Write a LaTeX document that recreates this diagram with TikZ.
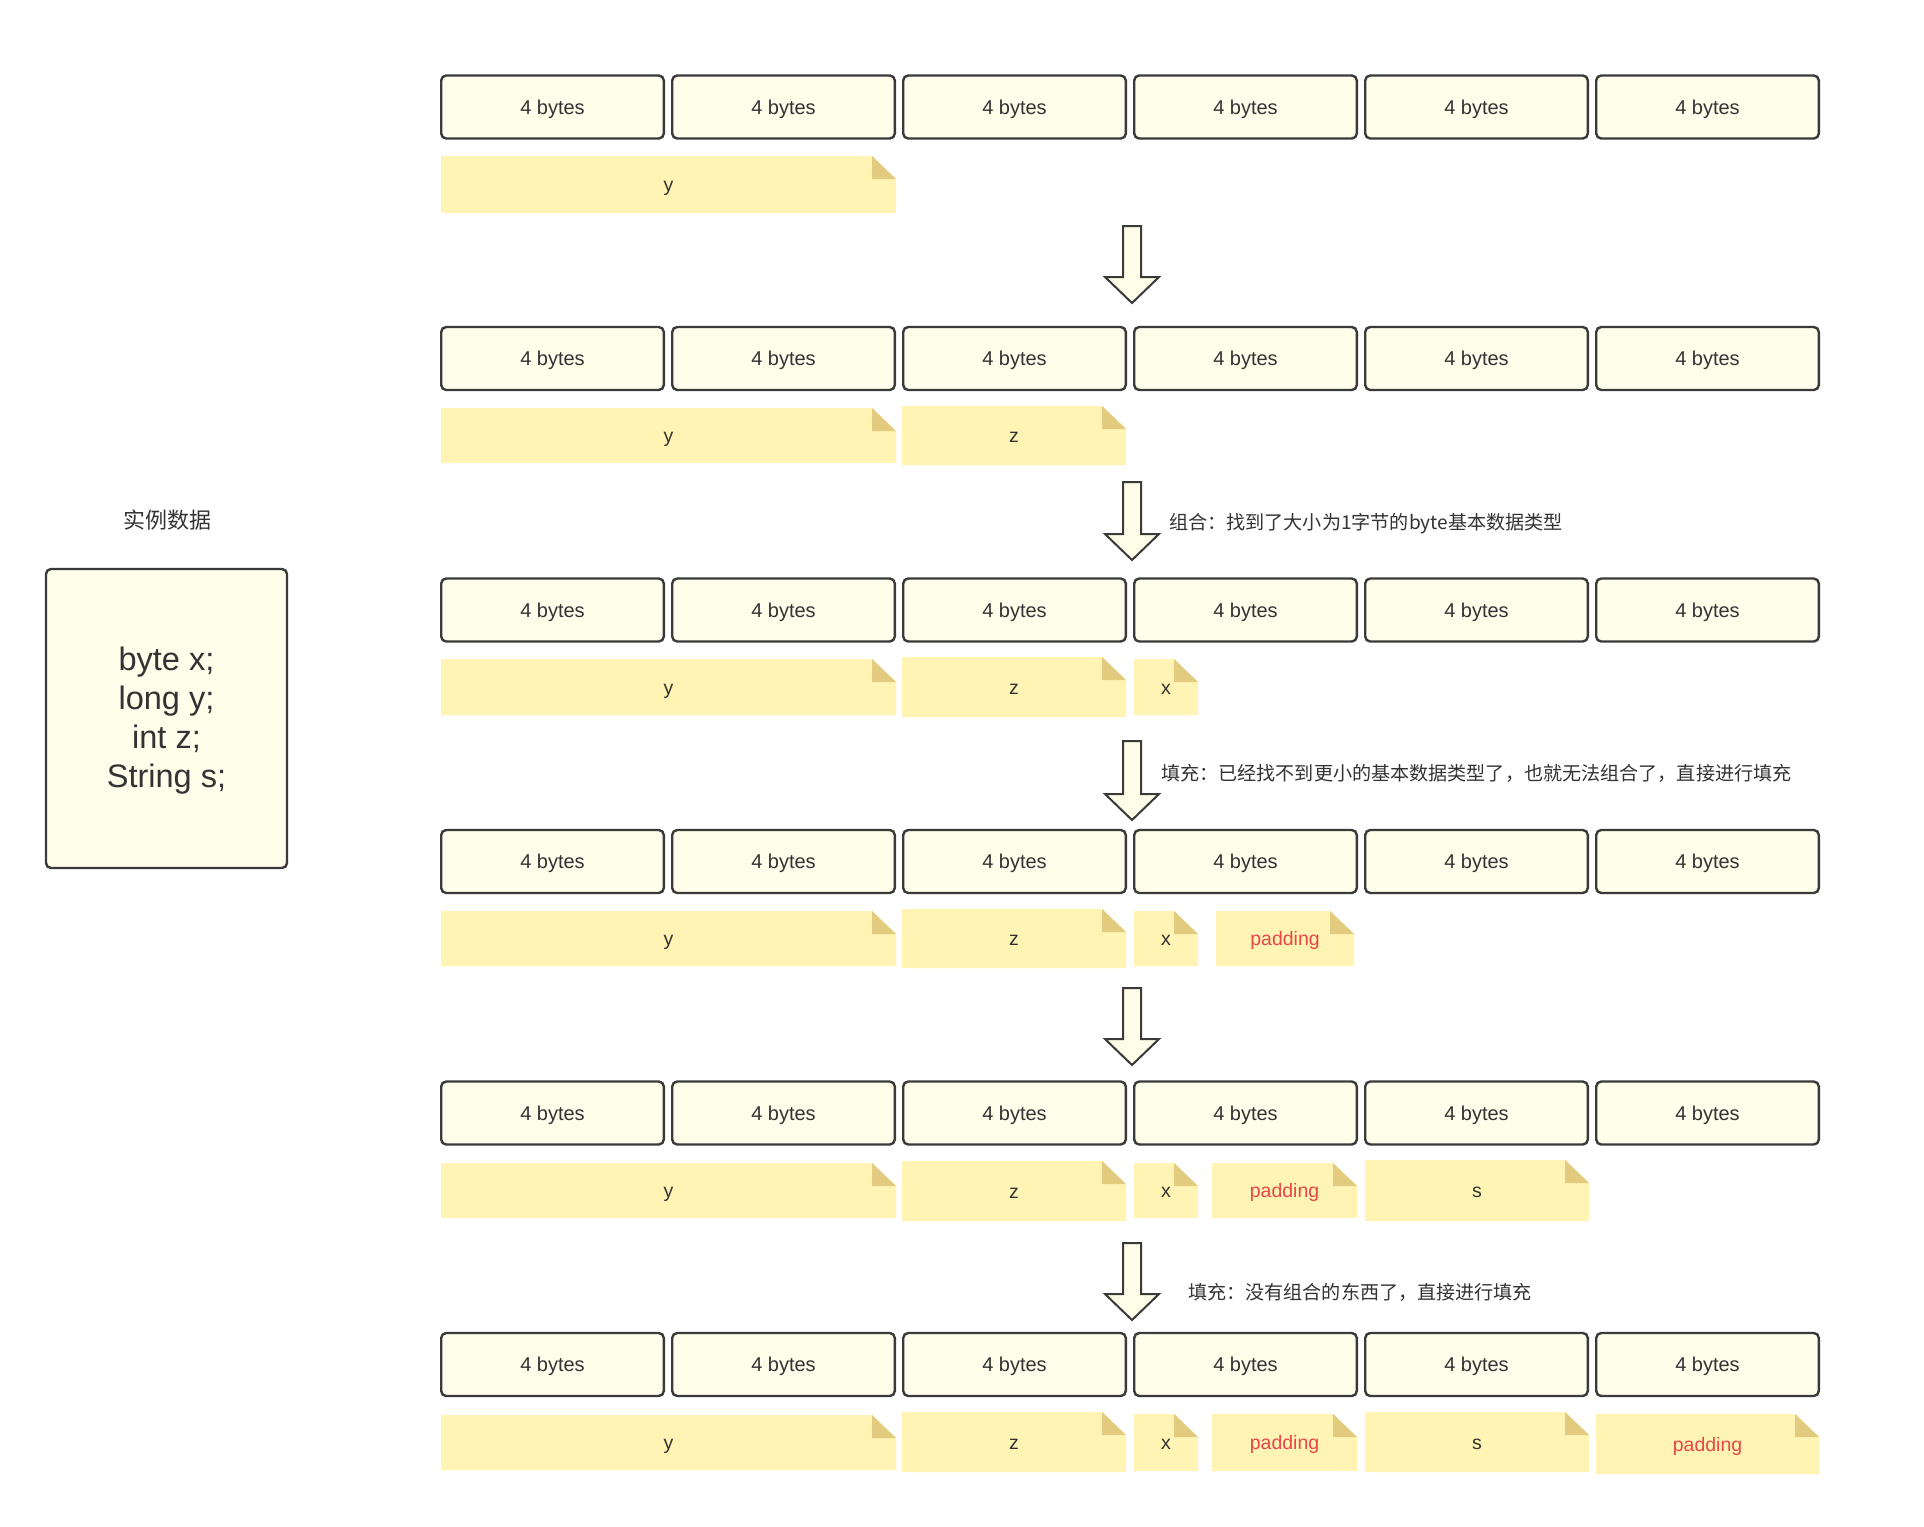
\documentclass[tikz,border=0pt]{standalone}
\usepackage{fontspec}
\setmainfont{Liberation Sans}
\newfontfamily\cjk{Noto Sans CJK SC}
\definecolor{boxfill}{HTML}{FEFEEA}
\definecolor{boxline}{HTML}{3A3A3A}
\definecolor{notefill}{HTML}{FFF4B3}
\definecolor{notefold}{HTML}{E2CA7E}
\definecolor{txt}{HTML}{333333}
\definecolor{padred}{HTML}{E8474A}
\definecolor{arrowfill}{HTML}{FEFEE8}
\tikzset{
  bytebox/.style={draw=boxline, fill=boxfill, line width=2.4pt, rounded corners=5pt,
    minimum width=222.6pt, minimum height=63pt, inner sep=0pt, text=txt,
    text height=14.3pt, text depth=0pt,
    font=\fontsize{20}{24}\selectfont},
  notetext/.style={inner sep=0pt, text height=14.5pt, text depth=0pt,
    font=\fontsize{19.5}{23}\selectfont},
  blockarrow/.style={draw=boxline, fill=arrowfill, line width=2pt, line join=miter},
  lbl/.style={anchor=west, inner sep=0pt, text=txt, font=\cjk\fontsize{19.1}{23}\selectfont},
}
% name, x1, y1, x2, y2, text, colour
\newcommand{\mynote}[7]{%
  \fill[notefill] (#2,#3) -- ({#4-24},#3) -- (#4,{#3+23}) -- (#4,#5) -- (#2,#5) -- cycle;
  \fill[notefold] ({#4-24},#3) -- ({#4-24},{#3+23}) -- (#4,{#3+23}) -- cycle;
  \node[notetext,text=#7] (#1) at ({(#2+#4)/2},{(#3+#5)/2}) {#6};
}
% name, ytop, ytip
\newcommand{\myarrow}[3]{%
  \draw[blockarrow] (1123,#2) -- (1141,#2) -- (1141,{#3-26}) -- (1159,{#3-26}) -- (1132,#3)
    -- (1105,{#3-26}) -- (1123,{#3-26}) -- cycle;
  \coordinate (#1) at (1132,#3);
}
\begin{document}
\begin{tikzpicture}[x=1pt,y=-1pt]
\useasboundingbox (0,0) rectangle (1924,1526);
\fill[white] (0,0) rectangle (1924,1526);

% left data box
\node[text=txt, font=\cjk\fontsize{22}{26}\selectfont] (title) at (167,520) {实例数据};
\node[draw=boxline, fill=boxfill, line width=2.4pt, rounded corners=5pt,
  minimum width=241pt, minimum height=299pt] (data) at (166.5,718.5) {};
\node[text=txt, align=center, font=\fontsize{32.5}{39}\selectfont] (datatext) at (166.5,721)
  {byte x;\\long y;\\int z;\\String s;};

% rows of 4-byte boxes
\foreach \r/\yc in {1/107,2/358.5,3/610,4/861.5,5/1113,6/1364.5}{
  \foreach \c in {1,...,6}{
    \node[bytebox] (b\r-\c) at ({552.5+231*(\c-1)},\yc) {4 bytes};
  }
}

% row 1
\mynote{y1}{441}{156}{896}{213}{y}{txt}
% row 2
\mynote{y2}{441}{408}{896}{463}{y}{txt}
\mynote{z2}{902}{406}{1126}{465}{z}{txt}
% row 3
\mynote{y3}{441}{659}{896}{715}{y}{txt}
\mynote{z3}{902}{657}{1126}{717}{z}{txt}
\mynote{x3}{1134}{659}{1198}{715}{x}{txt}
% row 4
\mynote{y4}{441}{911}{896}{966}{y}{txt}
\mynote{z4}{902}{909}{1126}{968}{z}{txt}
\mynote{x4}{1134}{911}{1198}{966}{x}{txt}
\mynote{p4}{1216}{911}{1354}{966}{padding}{padred}
% row 5
\mynote{y5}{441}{1163}{896}{1218}{y}{txt}
\mynote{z5}{902}{1161}{1126}{1221}{z}{txt}
\mynote{x5}{1134}{1163}{1198}{1218}{x}{txt}
\mynote{p5}{1212}{1163}{1357}{1218}{padding}{padred}
\mynote{s5}{1365}{1160}{1589}{1221}{s}{txt}
% row 6
\mynote{y6}{441}{1415}{896}{1470}{y}{txt}
\mynote{z6}{902}{1412}{1126}{1472}{z}{txt}
\mynote{x6}{1134}{1414}{1198}{1471}{x}{txt}
\mynote{p6}{1212}{1414}{1357}{1471}{padding}{padred}
\mynote{s6}{1365}{1412}{1589}{1472}{s}{txt}
\mynote{q6}{1596}{1414}{1819}{1474}{padding}{padred}

% block arrows
\myarrow{a1}{226}{303}
\myarrow{a2}{482}{560}
\myarrow{a3}{741}{820}
\myarrow{a4}{988}{1065}
\myarrow{a5}{1243}{1320}

% labels
\node[lbl] (l2) at (1169,524) {组合：找到了大小为1字节的byte基本数据类型};
\node[lbl] (l3) at (1161,773.5) {填充：已经找不到更小的基本数据类型了，也就无法组合了，直接进行填充};
\node[lbl] (l5) at (1188,1292.5) {填充：没有组合的东西了，直接进行填充};
\end{tikzpicture}
\end{document}
